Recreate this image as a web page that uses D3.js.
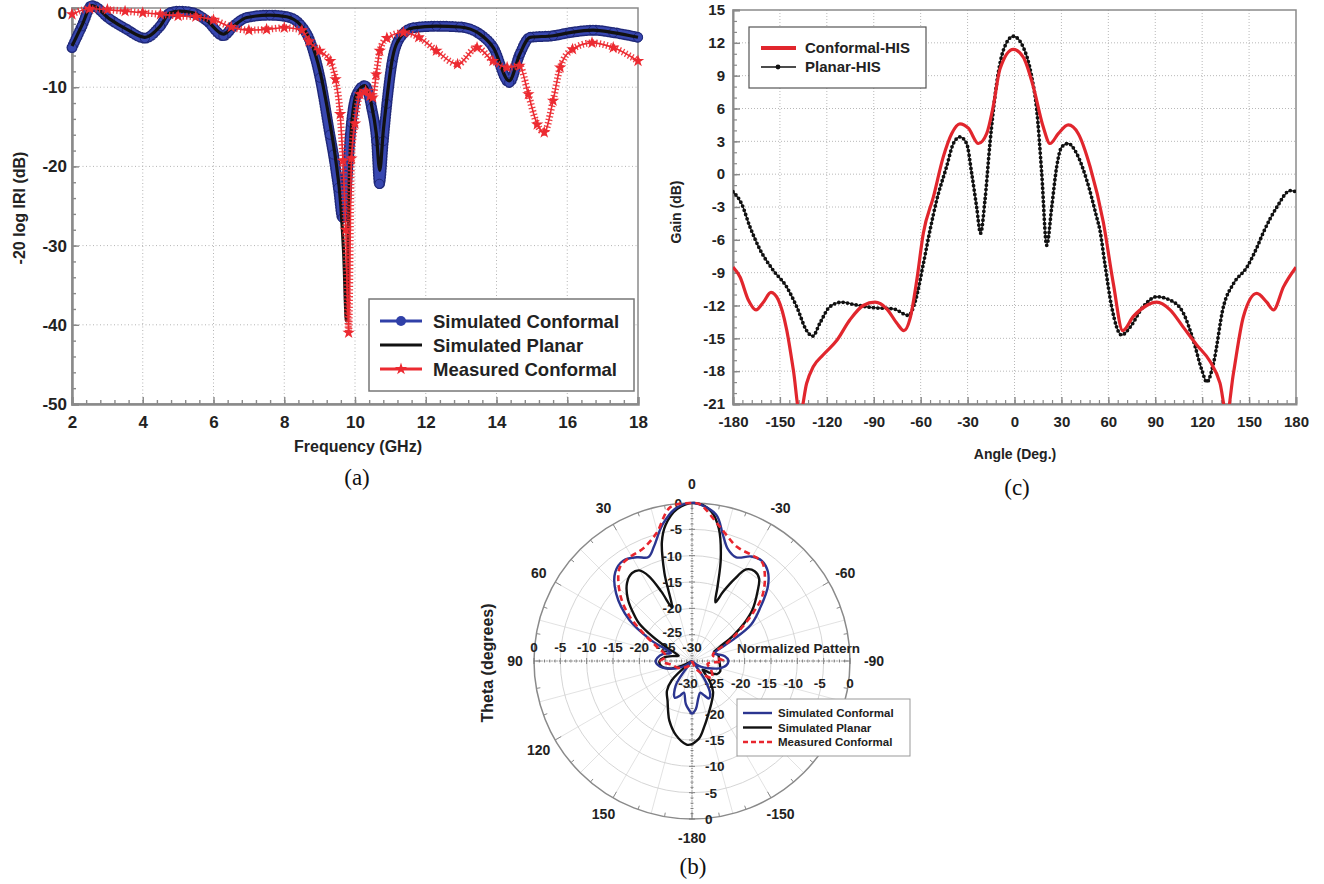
<!DOCTYPE html>
<html>
<head>
<meta charset="utf-8">
<script src="https://d3js.org/d3.v7.min.js"></script>
<style>
  body { margin: 0; background: #fff; }
  svg text { font-family: Arial, "Liberation Sans", Helvetica, sans-serif; font-weight: bold; fill: #222; }
  svg text.cap { font-family: "Liberation Serif", "Times New Roman", serif; font-weight: normal; fill: #111; }
</style>
</head>
<body>
<script>
// ---------- (a) return loss vs frequency ----------
const simConfFreq = [2.0,2.28,2.56,3.07,3.55,4.06,4.49,4.77,5.05,5.42,5.81,6.28,6.56,6.94,7.6,8.07,8.45,8.73,9.01,9.29,9.39,9.53,9.65,9.72,9.8,9.9,10.05,10.28,10.47,10.61,10.69,10.8,10.9,11.04,11.28,11.65,12.3,12.97,13.53,13.91,14.36,14.66,14.95,15.6,16.08,16.73,17.3,18.0];
const simConfDb = [-5.0,-2.3,0.3,-1.4,-2.7,-3.8,-2.3,-0.6,-0.4,-0.6,-1.6,-3.5,-2.3,-1.2,-0.9,-1.1,-2.1,-4.2,-8.8,-16.0,-18.5,-22.7,-26.5,-25.5,-20.0,-14.5,-10.9,-9.8,-12.6,-16.8,-22.2,-16.8,-12.1,-7.1,-3.7,-2.5,-2.3,-2.4,-3.3,-5.0,-9.4,-5.8,-3.7,-3.5,-3.1,-2.8,-3.1,-3.7];

const simPlanFreq = [2.0,2.28,2.56,3.07,3.55,4.06,4.49,4.77,5.05,5.42,5.81,6.28,6.56,6.94,7.6,8.07,8.45,8.73,9.01,9.29,9.45,9.6,9.68,9.76,9.82,9.9,10.05,10.28,10.47,10.6,10.7,10.8,10.9,11.04,11.28,11.65,12.3,12.97,13.53,13.91,14.36,14.66,14.95,15.6,16.08,16.73,17.3,18.0];
const simPlanDb = [-4.8,-2.2,0.3,-1.4,-2.7,-3.7,-2.3,-0.6,-0.4,-0.6,-1.6,-3.3,-2.3,-1.2,-0.9,-1.1,-2.1,-4.0,-8.0,-14.5,-19.0,-25.0,-31.0,-39.5,-25.0,-15.0,-10.8,-9.8,-12.3,-15.8,-20.5,-15.5,-11.5,-6.8,-3.7,-2.5,-2.3,-2.4,-3.3,-5.0,-9.2,-5.8,-3.7,-3.5,-3.1,-2.8,-3.1,-3.7];

const measFreq = [2.0,2.5,3.0,3.5,4.0,4.5,5.0,5.5,6.0,6.5,7.0,7.5,8.0,8.5,8.7,9.0,9.3,9.45,9.58,9.66,9.74,9.82,9.9,10.0,10.14,10.3,10.42,10.5,10.6,10.7,10.9,11.37,11.8,12.3,12.9,13.45,13.9,14.3,14.65,14.9,15.15,15.35,15.6,15.8,16.15,16.7,17.3,18.0];
const measDb = [-0.8,-0.1,-0.2,-0.4,-0.6,-0.8,-1.0,-1.1,-1.5,-2.4,-2.8,-2.7,-2.5,-2.8,-4.2,-5.4,-6.7,-9.0,-13.4,-19.3,-28.0,-41.0,-19.0,-14.6,-10.9,-10.5,-11.1,-11.3,-8.4,-5.4,-3.8,-3.1,-3.7,-5.4,-7.1,-5.0,-6.7,-7.5,-7.3,-10.9,-14.7,-15.7,-11.7,-7.5,-5.2,-4.4,-5.0,-6.7];

const freqTicks = [2, 4, 6, 8, 10, 12, 14, 16, 18];
const dbTicks = [-50, -40, -30, -20, -10, 0];

// ---------- (c) gain vs angle ----------
const confAngle = [-180,-175.5,-170.2,-165.3,-160.6,-155.7,-151,-145.7,-141.4,-137.2,-132.9,-128.7,-122.3,-113.7,-105.2,-96.7,-89.2,-81.7,-75.3,-70.7,-66.8,-62.5,-58.3,-51.9,-45.5,-40.2,-34.9,-29.5,-23.1,-17.8,-13.6,-9.3,-0.8,5.6,12,18.4,22.7,28,34.4,40.8,48.3,56.8,63.2,69.2,76,84.5,90.9,99.5,108,116.5,125,131.4,135.7,140,146.4,154.9,161.3,165.6,172,180];
const confGain = [-8.5,-9.4,-11.5,-12.4,-11.7,-10.8,-11.5,-14.2,-17.9,-22.0,-19.1,-17.6,-16.5,-15.2,-13.3,-12.0,-11.7,-12.3,-13.6,-14.3,-13.2,-9.7,-5.4,-2.1,1.6,3.7,4.6,4.2,2.8,3.7,6.2,9.6,11.4,10.7,8.0,4.3,2.8,3.7,4.5,3.7,0.7,-4.4,-10.0,-14.3,-13.0,-12.0,-11.7,-12.4,-14.0,-15.6,-17.1,-19.1,-22.0,-18.2,-13.0,-10.9,-11.7,-12.4,-10.3,-8.5];

const planAngle = [-180,-174.5,-169.2,-162.7,-154.2,-145.7,-139.3,-132.9,-129,-124.4,-118,-110.5,-103.1,-90.3,-77.5,-67.9,-63.6,-58.3,-54,-49.8,-43.4,-39.1,-34.9,-30.6,-27.4,-24.2,-21.7,-18.9,-15.7,-11.4,-7.2,-0.8,5.6,11,14.2,17.4,20.6,23.8,27,30.2,34.4,39.7,46.1,52.5,54.6,57.8,62.1,68.5,73.8,82.3,90.9,99.4,108,114.4,119.8,123,127.2,133.6,140,148.6,155,159.2,167.8,176.3,180];
const planGain = [-1.6,-2.7,-4.8,-6.9,-8.8,-10.3,-12.1,-14.3,-14.8,-13.6,-12.1,-11.7,-11.9,-12.2,-12.3,-12.9,-11.7,-8.2,-5.1,-2.4,0.7,2.8,3.4,2.8,0.1,-3.0,-5.4,-2.4,2.8,8.3,11.3,12.6,11.6,8.9,5.9,0.1,-6.5,-3.0,0.7,2.5,2.8,1.9,-0.5,-3.9,-5.1,-8.2,-12.1,-14.7,-14.0,-12.1,-11.2,-11.5,-12.7,-15.2,-17.9,-19.0,-17.3,-12.1,-10.0,-8.5,-6.7,-5.3,-3.0,-1.5,-1.6];

const angleTicks = [-180,-150,-120,-90,-60,-30,0,30,60,90,120,150,180];
const gainTicks = [-21,-18,-15,-12,-9,-6,-3,0,3,6,9,12,15];

// ---------- (b) normalized polar pattern ----------
const measPolarAngle = [-180,-150,-130,-115,-100,-90,-74,-62.8,-57.1,-51.8,-47.6,-41,-35.3,-29.5,-21.5,-11.8,-2.9,0,8,15.5,23.4,30.7,37.4,42.3,49,54.5,60.4,67.9,80,90,100,115,130,150,180];
const measPolarDb = [-30,-28,-25,-26,-27,-24,-25.9,-22.5,-19.2,-15.3,-12.0,-8.9,-7.0,-6.9,-6.7,-4.0,-0.2,0,-0.5,-4.8,-6.7,-7.0,-7.5,-9.2,-12.3,-15.5,-19.4,-22.8,-25,-24,-26,-27,-28,-29,-30];
const polarAngleLabels = [0,30,60,90,120,150,180,-150,-90,-60,-30];
const polarRings = [-25,-20,-15,-10,-5];

const svg = d3.select('body').append('svg').attr('width', 1324).attr('height', 884);
svg.append('rect').attr('width', 1324).attr('height', 884).attr('fill', '#fff');

const plain = d => String(d);

function styleAxis(g, size) {
  g.select('.domain').attr('stroke', '#8a8a8a').attr('stroke-width', 2.5);
  g.selectAll('.tick line').attr('stroke', '#8a8a8a').attr('stroke-width', 1.4);
  g.selectAll('.tick text').style('font-size', size + 'px');
}

// ================= panel (a) =================
const xA = d3.scaleLinear().domain([2, 18]).range([72, 638]);
const yA = d3.scaleLinear().domain([-50, 0]).range([404, 8]);
const gA = svg.append('g');

gA.selectAll('line.gx').data(freqTicks.slice(1, -1)).enter().append('line')
  .attr('x1', d => xA(d)).attr('x2', d => xA(d)).attr('y1', yA(0)).attr('y2', yA(-50))
  .attr('stroke', '#b4b4b4').attr('stroke-dasharray', '1,2.5');
gA.selectAll('line.gy').data(dbTicks.slice(1, -1)).enter().append('line')
  .attr('y1', d => yA(d)).attr('y2', d => yA(d)).attr('x1', xA(2)).attr('x2', xA(18))
  .attr('stroke', '#b4b4b4').attr('stroke-dasharray', '1,2.5');
gA.append('rect').attr('x', xA(2)).attr('y', yA(0))
  .attr('width', xA(18) - xA(2)).attr('height', yA(-50) - yA(0))
  .attr('fill', 'none').attr('stroke', '#8a8a8a').attr('stroke-width', 1.5);

const aMinX = gA.append('g').attr('transform', `translate(0,${yA(-50)})`)
  .call(d3.axisBottom(xA).tickValues(d3.range(2, 18.01, 0.4)).tickSize(-4).tickFormat(''));
aMinX.select('.domain').remove();
aMinX.selectAll('.tick line').attr('stroke', '#8a8a8a').attr('stroke-width', 1.4);
const aMinY = gA.append('g').attr('transform', `translate(${xA(2)},0)`)
  .call(d3.axisLeft(yA).tickValues(d3.range(-50, 0.1, 2)).tickSize(-4).tickFormat(''));
aMinY.select('.domain').remove();
aMinY.selectAll('.tick line').attr('stroke', '#8a8a8a').attr('stroke-width', 1.4);

const aX = gA.append('g').attr('transform', `translate(0,${yA(-50)})`)
  .call(d3.axisBottom(xA).tickValues(freqTicks).tickSize(-7).tickPadding(12).tickFormat(plain));
styleAxis(aX, 17);
const aY = gA.append('g').attr('transform', `translate(${xA(2)},0)`)
  .call(d3.axisLeft(yA).tickValues(dbTicks).tickSize(-7).tickPadding(5).tickFormat(plain));
styleAxis(aY, 17);
aY.selectAll('.tick text').filter(d => d === 0).attr('dy', '0.62em');

const lineA = d3.line().x(d => xA(d[0])).y(d => yA(d[1])).curve(d3.curveMonotoneX);
const confPts = d3.zip(simConfFreq, simConfDb);
const planPts = d3.zip(simPlanFreq, simPlanDb);
const measPts = d3.zip(measFreq, measDb);

// simulated conformal: dense circle markers
gA.append('path').datum(confPts).attr('d', lineA).attr('fill', 'none')
  .attr('stroke', '#1f2878').attr('stroke-width', 11).attr('stroke-linecap', 'round').attr('stroke-dasharray', '0,3');
gA.append('path').datum(confPts).attr('d', lineA).attr('fill', 'none')
  .attr('stroke', '#3847b0').attr('stroke-width', 8).attr('stroke-linecap', 'round').attr('stroke-dasharray', '0,3');
gA.selectAll('circle.sc').data(confPts).enter().append('circle')
  .attr('cx', d => xA(d[0])).attr('cy', d => yA(d[1])).attr('r', 4.6)
  .attr('fill', '#3847b0').attr('stroke', '#1f2878').attr('stroke-width', 1);

// simulated planar
gA.append('path').datum(planPts).attr('d', lineA).attr('fill', 'none')
  .attr('stroke', '#111').attr('stroke-width', 3.2);

// measured conformal: star markers
gA.append('path').datum(measPts).attr('d', lineA).attr('fill', 'none')
  .attr('stroke', '#ec2a31').attr('stroke-width', 7).attr('stroke-dasharray', '1.3,2.2').attr('opacity', 0.9);
gA.append('path').datum(measPts).attr('d', lineA).attr('fill', 'none')
  .attr('stroke', '#ec2a31').attr('stroke-width', 1.6);
const star = d3.symbol().type(d3.symbolStar).size(48);
gA.selectAll('path.st').data(measPts).enter().append('path')
  .attr('d', star).attr('transform', d => `translate(${xA(d[0])},${yA(d[1])})`)
  .attr('fill', '#ec2a31');

// legend (a)
const legA = gA.append('g');
legA.append('rect').attr('x', 369).attr('y', 299).attr('width', 265).attr('height', 92)
  .attr('fill', '#fff').attr('stroke', '#777').attr('stroke-width', 1.5);
const legAItems = [
  { name: 'Simulated Conformal', color: '#3040a8', mark: 'circle' },
  { name: 'Simulated Planar', color: '#111', mark: null },
  { name: 'Measured Conformal', color: '#ec2a31', mark: 'star' }
];
legAItems.forEach((it, i) => {
  const y = 321 + i * 24;
  legA.append('line').attr('x1', 380).attr('x2', 422).attr('y1', y).attr('y2', y)
    .attr('stroke', it.color).attr('stroke-width', 3);
  if (it.mark === 'circle') legA.append('circle').attr('cx', 401).attr('cy', y).attr('r', 5).attr('fill', it.color);
  if (it.mark === 'star') legA.append('path').attr('d', star).attr('transform', `translate(401,${y})`).attr('fill', it.color);
  legA.append('text').attr('x', 433).attr('y', y).attr('dy', '0.36em').style('font-size', '18.5px').text(it.name);
});

gA.append('text').attr('x', 358).attr('y', 452).attr('text-anchor', 'middle').style('font-size', '16px').text('Frequency (GHz)');
gA.append('text').attr('transform', 'translate(19,208) rotate(-90)').attr('text-anchor', 'middle')
  .attr('dy', '0.36em').style('font-size', '16px').text('-20 log IRI  (dB)');
gA.append('text').attr('class', 'cap').attr('x', 357).attr('y', 485).attr('text-anchor', 'middle').style('font-size', '23px').text('(a)');

// ================= panel (c) =================
const xC = d3.scaleLinear().domain([-180, 180]).range([733, 1296]);
const yC = d3.scaleLinear().domain([-21, 15]).range([404, 10]);
const gC = svg.append('g');

gC.selectAll('line.gx').data(angleTicks.slice(1, -1)).enter().append('line')
  .attr('x1', d => xC(d)).attr('x2', d => xC(d)).attr('y1', yC(15)).attr('y2', yC(-21))
  .attr('stroke', '#b8b8b8').attr('stroke-dasharray', '1,2');
gC.selectAll('line.gy').data(gainTicks.slice(1, -1)).enter().append('line')
  .attr('y1', d => yC(d)).attr('y2', d => yC(d)).attr('x1', xC(-180)).attr('x2', xC(180))
  .attr('stroke', '#b8b8b8').attr('stroke-dasharray', '1,2');
gC.append('rect').attr('x', xC(-180)).attr('y', yC(15))
  .attr('width', xC(180) - xC(-180)).attr('height', yC(-21) - yC(15))
  .attr('fill', 'none').attr('stroke', '#8a8a8a').attr('stroke-width', 1.5);

const cMinX = gC.append('g').attr('transform', `translate(0,${yC(-21)})`)
  .call(d3.axisBottom(xC).tickValues(d3.range(-180, 180.1, 6)).tickSize(-4).tickFormat(''));
cMinX.select('.domain').remove();
cMinX.selectAll('.tick line').attr('stroke', '#8a8a8a').attr('stroke-width', 1.2);
const cMinY = gC.append('g').attr('transform', `translate(${xC(-180)},0)`)
  .call(d3.axisLeft(yC).tickValues(d3.range(-21, 15.1, 1)).tickSize(-4).tickFormat(''));
cMinY.select('.domain').remove();
cMinY.selectAll('.tick line').attr('stroke', '#8a8a8a').attr('stroke-width', 1.2);

const cX = gC.append('g').attr('transform', `translate(0,${yC(-21)})`)
  .call(d3.axisBottom(xC).tickValues(angleTicks).tickSize(-7).tickPadding(12).tickFormat(plain));
styleAxis(cX, 15);
cX.select('.domain').attr('stroke-width', 2);
const cY = gC.append('g').attr('transform', `translate(${xC(-180)},0)`)
  .call(d3.axisLeft(yC).tickValues(gainTicks).tickSize(-7).tickPadding(8).tickFormat(plain));
styleAxis(cY, 15);
cY.select('.domain').attr('stroke-width', 2);

svg.append('clipPath').attr('id', 'clipC').append('rect')
  .attr('x', xC(-180)).attr('y', yC(15)).attr('width', xC(180) - xC(-180)).attr('height', yC(-21) - yC(15));
const lineC = d3.line().x(d => xC(d[0])).y(d => yC(d[1])).curve(d3.curveMonotoneX);
const confC = d3.zip(confAngle, confGain);
const planC = d3.zip(planAngle, planGain);
const plotC = gC.append('g').attr('clip-path', 'url(#clipC)');
plotC.append('path').datum(planC).attr('d', lineC).attr('fill', 'none')
  .attr('stroke', '#1a1a1a').attr('stroke-width', 1.3);
plotC.append('path').datum(planC).attr('d', lineC).attr('fill', 'none')
  .attr('stroke', '#111').attr('stroke-width', 3.8).attr('stroke-linecap', 'round').attr('stroke-dasharray', '0,4.4');
plotC.append('path').datum(confC).attr('d', lineC).attr('fill', 'none')
  .attr('stroke', '#e1262d').attr('stroke-width', 3.2);

const legC = gC.append('g');
legC.append('rect').attr('x', 749).attr('y', 27).attr('width', 177).attr('height', 61)
  .attr('fill', '#fff').attr('stroke', '#555').attr('stroke-width', 1.2);
legC.append('line').attr('x1', 761).attr('x2', 796).attr('y1', 48).attr('y2', 48)
  .attr('stroke', '#e1262d').attr('stroke-width', 4);
legC.append('text').attr('x', 805).attr('y', 48).attr('dy', '0.36em').style('font-size', '15px').text('Conformal-HIS');
legC.append('line').attr('x1', 761).attr('x2', 796).attr('y1', 67).attr('y2', 67)
  .attr('stroke', '#111').attr('stroke-width', 1.3);
legC.append('circle').attr('cx', 778).attr('cy', 67).attr('r', 2.4).attr('fill', '#111');
legC.append('text').attr('x', 805).attr('y', 67).attr('dy', '0.36em').style('font-size', '15px').text('Planar-HIS');

gC.append('text').attr('x', 1015).attr('y', 459).attr('text-anchor', 'middle').style('font-size', '14px').text('Angle (Deg.)');
gC.append('text').attr('transform', 'translate(676,212) rotate(-90)').attr('text-anchor', 'middle')
  .attr('dy', '0.36em').style('font-size', '14px').text('Gain (dB)');
gC.append('text').attr('class', 'cap').attr('x', 1017).attr('y', 495).attr('text-anchor', 'middle').style('font-size', '23px').text('(c)');

// ================= panel (b) =================
const cx = 692, cy = 661, R = 158;
const rB = d3.scaleLinear().domain([-30, 0]).range([0, R]).clamp(true);
const gB = svg.append('g').attr('transform', `translate(${cx},${cy})`);
const rad = a => a * Math.PI / 180;

gB.selectAll('line.spoke').data(d3.range(0, 360, 15)).enter().append('line')
  .attr('x1', 0).attr('y1', 0)
  .attr('x2', d => R * Math.sin(rad(d))).attr('y2', d => -R * Math.cos(rad(d)))
  .attr('stroke', '#dadada').attr('stroke-width', 0.8);
gB.selectAll('circle.ring').data(polarRings).enter().append('circle')
  .attr('r', d => rB(d)).attr('fill', 'none').attr('stroke', '#d0d0d0').attr('stroke-width', 0.9);
gB.append('circle').attr('r', R).attr('fill', 'none').attr('stroke', '#8a8a8a').attr('stroke-width', 1.5);
gB.selectAll('line.otick').data(d3.range(0, 360, 10)).enter().append('line')
  .attr('x1', d => R * Math.sin(rad(d))).attr('y1', d => -R * Math.cos(rad(d)))
  .attr('x2', d => (R - (d % 30 === 0 ? 7 : 4)) * Math.sin(rad(d)))
  .attr('y2', d => -(R - (d % 30 === 0 ? 7 : 4)) * Math.cos(rad(d)))
  .attr('stroke', '#8a8a8a').attr('stroke-width', 1);

gB.append('line').attr('x1', 0).attr('x2', 0).attr('y1', -R).attr('y2', R)
  .attr('stroke', '#777').attr('stroke-width', 1).attr('stroke-dasharray', '1,1.5');
gB.append('line').attr('x1', -R).attr('x2', R).attr('y1', 0).attr('y2', 0)
  .attr('stroke', '#777').attr('stroke-width', 1).attr('stroke-dasharray', '1,1.5');
// small ticks along the four half axes, every 1 dB
const dbMinor = d3.range(-29, 0.1, 1);
const tl = d => (d % 5 === 0 ? 3 : 1.5);
[[0, -1], [0, 1], [-1, 0], [1, 0]].forEach(([ux, uy]) => {
  gB.selectAll(null).data(dbMinor).enter().append('line')
    .attr('x1', d => ux * rB(d) - uy * tl(d)).attr('x2', d => ux * rB(d) + uy * tl(d))
    .attr('y1', d => uy * rB(d) - ux * tl(d)).attr('y2', d => uy * rB(d) + ux * tl(d))
    .attr('stroke', '#777').attr('stroke-width', 0.9);
});

// radial labels on the four half axes
const radTicks = [0, -5, -10, -15, -20, -25];
gB.selectAll('text.up').data(radTicks).enter().append('text')
  .attr('x', -10).attr('y', d => -rB(d) - (d === -25 ? 3 : 0)).attr('dy', '0.36em').attr('text-anchor', 'end')
  .style('font-size', '13.5px').text(plain);
gB.selectAll('text.down').data(radTicks.slice(0, 5)).enter().append('text')
  .attr('x', 13).attr('y', d => rB(d)).attr('dy', '0.36em').attr('text-anchor', 'start')
  .style('font-size', '13.5px').text(plain);
gB.selectAll('text.left').data(radTicks.concat([-30])).enter().append('text')
  .attr('x', d => -rB(d)).attr('y', -14).attr('dy', '0.36em').attr('text-anchor', 'middle')
  .style('font-size', '13.5px').text(plain);
gB.selectAll('text.right').data(radTicks.concat([-30])).enter().append('text')
  .attr('x', d => rB(d) - (d === 0 ? 0 : 4)).attr('y', 22).attr('dy', '0.36em').attr('text-anchor', 'middle')
  .style('font-size', '13.5px').text(plain);

gB.selectAll('text.ang').data(polarAngleLabels).enter().append('text')
  .attr('x', d => -177 * Math.sin(rad(d)) + (d === -90 ? 5 : 0))
  .attr('y', d => -177 * Math.cos(rad(d)))
  .attr('dy', '0.36em').attr('text-anchor', 'middle').style('font-size', '14px')
  .text(d => d === 180 ? '-180' : String(d));

// pattern curves: simulated ones are panel (c) gains normalised to their peak
const radial = d3.lineRadial().angle(d => -rad(d[0])).radius(d => rB(d[1])).curve(d3.curveCatmullRom);
const peakConf = d3.max(confGain), peakPlan = d3.max(planGain);
const confNorm = confAngle.map((a, i) => [a, confGain[i] - peakConf]);
const planNorm = planAngle.map((a, i) => [a, planGain[i] - peakPlan]);
const measNorm = d3.zip(measPolarAngle, measPolarDb);
gB.append('path').datum(planNorm).attr('d', radial).attr('fill', 'none')
  .attr('stroke', '#111').attr('stroke-width', 2.4);
gB.append('path').datum(confNorm).attr('d', radial).attr('fill', 'none')
  .attr('stroke', '#2b3590').attr('stroke-width', 2.4);
gB.append('path').datum(measNorm).attr('d', radial).attr('fill', 'none')
  .attr('stroke', '#e8262e').attr('stroke-width', 2.6).attr('stroke-dasharray', '6,4');

gB.append('text').attr('x', 45).attr('y', -8).style('font-size', '13.5px').text('Normalized Pattern');

const legB = svg.append('g');
legB.append('rect').attr('x', 737).attr('y', 699).attr('width', 173).attr('height', 57)
  .attr('fill', '#fff').attr('stroke', '#999').attr('stroke-width', 1);
[{ n: 'Simulated Conformal', c: '#2b3590', d: null },
 { n: 'Simulated Planar', c: '#111', d: null },
 { n: 'Measured Conformal', c: '#e8262e', d: '5,3' }].forEach((it, i) => {
  const y = 713 + i * 14.5;
  legB.append('line').attr('x1', 743).attr('x2', 772).attr('y1', y).attr('y2', y)
    .attr('stroke', it.c).attr('stroke-width', 2.4).attr('stroke-dasharray', it.d);
  legB.append('text').attr('x', 778).attr('y', y).attr('dy', '0.36em')
    .style('font-size', '11.5px').attr('fill', '#333').text(it.n);
});

svg.append('text').attr('transform', 'translate(487,663) rotate(-90)').attr('text-anchor', 'middle')
  .attr('dy', '0.36em').style('font-size', '16px').text('Theta (degrees)');
svg.append('text').attr('class', 'cap').attr('x', 693).attr('y', 874).attr('text-anchor', 'middle').style('font-size', '23px').text('(b)');
</script>
</body>
</html>
